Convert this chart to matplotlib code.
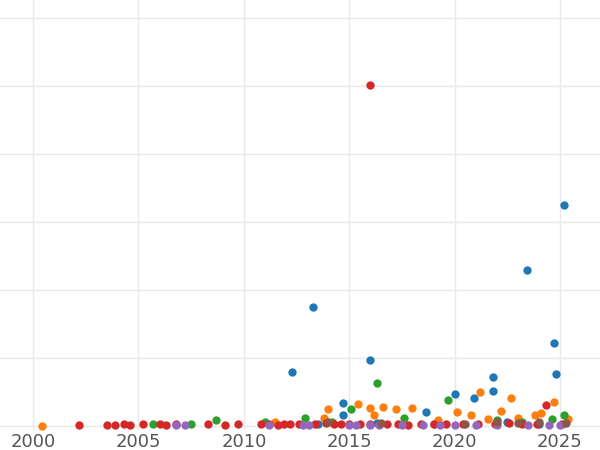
import matplotlib
matplotlib.use("Agg")
import matplotlib.pyplot as plt

blue_x = [2012.3, 2013.3, 2014.7, 2014.7, 2016.0, 2018.65, 2020.0, 2020.9, 2021.8, 2021.8, 2023.45, 2024.7, 2024.8, 2025.2, 2013.5, 2016.3, 2019.0, 2022.5, 2024.0]
blue_y = [0.79, 1.75, 0.34, 0.15, 0.97, 0.20, 0.46, 0.41, 0.51, 0.71, 2.29, 1.22, 0.76, 3.24, 0.03, 0.04, 0.02, 0.05, 0.03]
orange_x = [2000.4, 2014.0, 2015.4, 2016.0, 2016.6, 2017.2, 2018.0, 2020.1, 2021.2, 2022.7, 2024.7, 2022.2, 2024.1, 2020.8, 2011.5, 2013.8, 2016.2, 2019.2, 2023.0, 2025.4, 2021.6, 2023.8]
orange_y = [0.0, 0.24, 0.32, 0.26, 0.28, 0.25, 0.26, 0.20, 0.50, 0.40, 0.35, 0.22, 0.19, 0.16, 0.05, 0.12, 0.15, 0.08, 0.12, 0.10, 0.10, 0.15]
green_x = [2005.7, 2007.5, 2008.7, 2011.0, 2012.9, 2015.1, 2016.3, 2017.6, 2019.7, 2025.2, 2014.2, 2022.0, 2023.2, 2024.6]
green_y = [0.02, 0.03, 0.09, 0.05, 0.12, 0.24, 0.63, 0.12, 0.38, 0.15, 0.06, 0.08, 0.06, 0.10]
red_x = [2002.2, 2003.5, 2003.9, 2004.3, 2004.6, 2005.2, 2006.0, 2006.3, 2006.8, 2008.3, 2009.1, 2009.7, 2010.8, 2011.2, 2011.6, 2011.9, 2012.2, 2012.6, 2013.4, 2013.9, 2014.3, 2014.6, 2015.0, 2015.5, 2016.0, 2016.8, 2017.3, 2017.8, 2018.4, 2019.0, 2019.6, 2020.4, 2021.1, 2021.9, 2022.6, 2023.2, 2023.9, 2024.35, 2025.1, 2016.0]
red_y = [0.01, 0.01, 0.01, 0.02, 0.01, 0.02, 0.02, 0.01, 0.02, 0.03, 0.01, 0.02, 0.02, 0.03, 0.01, 0.03, 0.02, 0.02, 0.03, 0.04, 0.02, 0.03, 0.02, 0.03, 0.02, 0.03, 0.02, 0.01, 0.02, 0.03, 0.02, 0.03, 0.02, 0.03, 0.04, 0.02, 0.03, 0.31, 0.02, 5.01]
purple_x = [2006.8, 2007.2, 2011.2, 2012.8, 2013.1, 2015.0, 2015.3, 2016.0, 2016.4, 2017.5, 2018.5, 2019.3, 2020.0, 2021.0, 2022.0, 2023.5, 2024.5, 2025.0]
purple_y = [0.01, 0.01, 0.01, 0.01, 0.01, 0.01, 0.01, 0.01, 0.01, 0.01, 0.01, 0.01, 0.01, 0.01, 0.01, 0.01, 0.01, 0.01]
brown_x = [2014.0, 2016.5, 2020.5, 2022.0, 2023.0, 2024.0, 2025.3]
brown_y = [0.05, 0.04, 0.03, 0.06, 0.04, 0.05, 0.04]

fig = plt.figure(figsize=(6, 4.5), dpi=100)
ax = fig.add_axes([0.0, 0.045, 1.0, 0.955])
for xs, ys, c in [(blue_x, blue_y, "#1f77b4"), (orange_x, orange_y, "#ff7f0e"),
                  (green_x, green_y, "#2ca02c"), (red_x, red_y, "#d62728"),
                  (purple_x, purple_y, "#9467bd"), (brown_x, brown_y, "#8c564b")]:
    ax.scatter(xs, ys, s=36, color=c, zorder=3, linewidths=0)
ax.set_xlim(1998.43, 2026.9)
ax.set_ylim(-0.06, 6.26)
ax.set_xticks([2000, 2005, 2010, 2015, 2020, 2025])
ax.set_yticks([0, 1, 2, 3, 4, 5, 6])
ax.set_yticklabels([])
ax.tick_params(axis="y", length=0)
ax.tick_params(axis="x", length=0, labelsize=13, colors="#555555", pad=2)
ax.grid(True, color="#e8e8e8", linewidth=1, zorder=0)
for s in ax.spines.values():
    s.set_visible(False)
fig.savefig("out.png", dpi=100)
